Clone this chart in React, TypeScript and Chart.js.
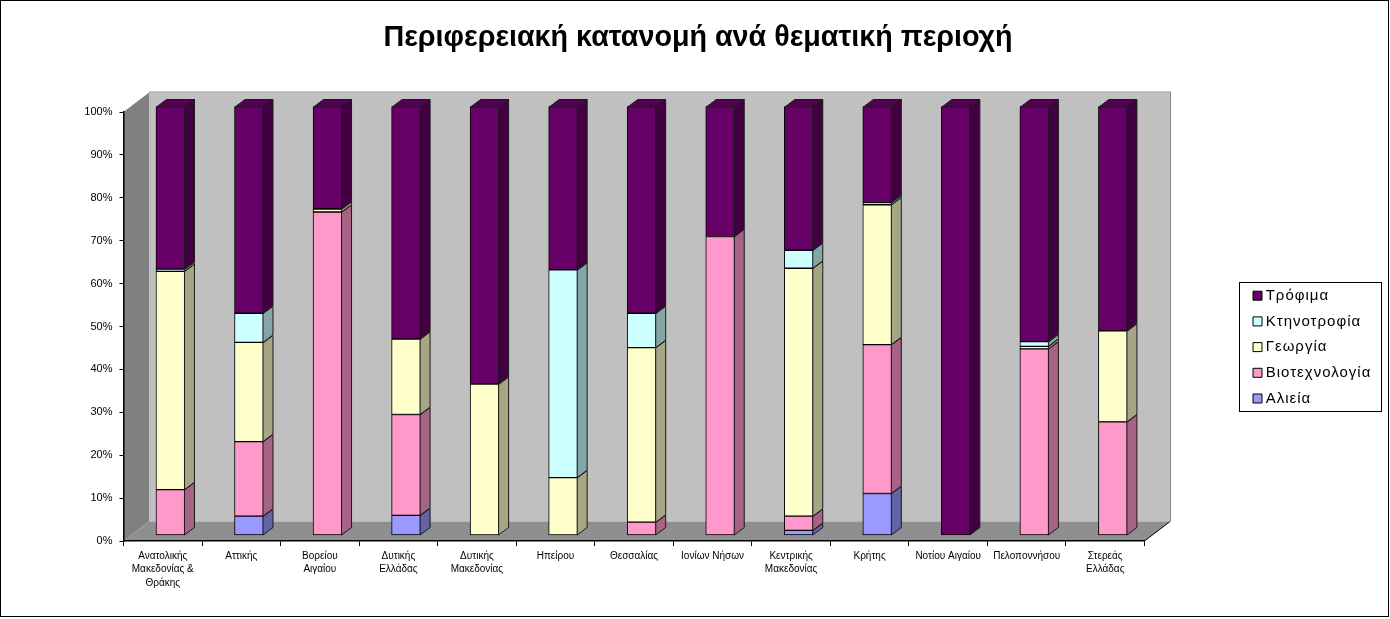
import React, { useEffect, useRef } from "react";
import { Chart, registerables } from "chart.js";

Chart.register(...registerables);

const regions = [
  ["Ανατολικής", "Μακεδονίας &", "Θράκης"],
  "Αττικής",
  ["Βορείου", "Αιγαίου"],
  ["Δυτικής", "Ελλάδας"],
  ["Δυτικής", "Μακεδονίας"],
  "Ηπείρου",
  "Θεσσαλίας",
  "Ιονίων Νήσων",
  ["Κεντρικής", "Μακεδονίας"],
  "Κρήτης",
  "Νοτίου Αιγαίου",
  "Πελοποννήσου",
  ["Στερεάς", "Ελλάδας"],
];

const alieia = [0, 4.5, 0, 4.7, 0, 0, 0, 0, 1.2, 9.8, 0, 0, 0];
const viotechnologia = [10.7, 17.4, 75.4, 23.5, 0, 0, 3.1, 69.7, 3.3, 34.7, 0, 43.5, 26.5];
const georgia = [50.9, 23.1, 0.7, 17.6, 35.3, 13.5, 40.7, 0, 57.8, 32.6, 0, 0.6, 21.2];
const ktinotrofia = [0.5, 6.8, 0, 0, 0, 48.4, 8.0, 0, 4.2, 0.5, 0, 1.1, 0];
const trofima = [37.9, 48.2, 23.9, 54.2, 64.7, 38.1, 48.2, 30.3, 33.5, 22.4, 100, 54.8, 52.3];

const yTicks = [0, 10, 20, 30, 40, 50, 60, 70, 80, 90, 100];
const title = "Περιφερειακή κατανομή ανά θεματική περιοχή";

const FONT = "'Liberation Sans', Arial, sans-serif";
const WALL_DX = 25.5;
const WALL_DY = -19.5;
const BAR_SHIFT_X = 7.7;
const BAR_SHIFT_Y = -5.5;
const BAR_DX = 10;
const BAR_DY = -7.5;

function shade(hex: string, k: number) {
  const n = parseInt(hex.slice(1), 16);
  const r = Math.round(((n >> 16) & 255) * k);
  const g = Math.round(((n >> 8) & 255) * k);
  const b = Math.round((n & 255) * k);
  return `rgb(${r},${g},${b})`;
}

function poly(ctx: CanvasRenderingContext2D, pts: number[][], fill: string, stroke?: string) {
  ctx.beginPath();
  pts.forEach((p, i) => (i ? ctx.lineTo(p[0], p[1]) : ctx.moveTo(p[0], p[1])));
  ctx.closePath();
  ctx.fillStyle = fill;
  ctx.fill();
  if (stroke) {
    ctx.strokeStyle = stroke;
    ctx.lineWidth = 1;
    ctx.stroke();
  }
}

const scene = {
  id: "scene3d",
  beforeDraw(chart: any) {
    const { ctx, chartArea: a, width, height } = chart;
    // place title and legend
    if (chart.titleBlock) {
      chart.titleBlock.left = 6;
      chart.titleBlock.right = width;
    }
    const lg = chart.legend;
    if (lg) {
      lg.left = 1246.1;
      lg.top = 277.5;
      lg.right = width;
      lg.bottom = height;
      if (!lg.__spaced) {
        lg.__spaced = true;
        const original = lg.draw;
        lg.draw = function (...args: any[]) {
          const c = this.ctx;
          const previous = c.letterSpacing;
          c.letterSpacing = "1px";
          original.apply(this, args);
          c.letterSpacing = previous;
        };
      }
    }
    ctx.save();
    ctx.fillStyle = "#fff";
    ctx.fillRect(0, 0, width, height);
    ctx.strokeStyle = "#000";
    ctx.lineWidth = 1;
    ctx.strokeRect(0.5, 0.5, width - 2, height - 3);
    // legend frame
    ctx.strokeRect(1239.5, 282.5, 142, 129);
    // walls
    const l = a.left, r = a.right, t = a.top, b = a.bottom;
    poly(ctx, [[l, t], [l + WALL_DX, t + WALL_DY], [l + WALL_DX, b + WALL_DY], [l, b]], "#808080");
    poly(ctx, [[l + WALL_DX, t + WALL_DY], [r + WALL_DX, t + WALL_DY], [r + WALL_DX, b + WALL_DY], [l + WALL_DX, b + WALL_DY]], "#C0C0C0");
    poly(ctx, [[l, b], [l + WALL_DX, b + WALL_DY], [r + WALL_DX, b + WALL_DY], [r, b]], "#8F8F8F");
    ctx.strokeStyle = "#8A8A8A";
    ctx.beginPath();
    ctx.moveTo(l + WALL_DX, t + WALL_DY - 0.5);
    ctx.lineTo(r + WALL_DX + 0.5, t + WALL_DY - 0.5);
    ctx.lineTo(r + WALL_DX + 0.5, b + WALL_DY);
    ctx.stroke();
    ctx.strokeStyle = "#000";
    ctx.beginPath();
    ctx.moveTo(r, b);
    ctx.lineTo(r + WALL_DX, b + WALL_DY);
    ctx.stroke();
    ctx.restore();
  },
  beforeDatasetsDraw(chart: any) {
    chart.ctx.save();
    chart.ctx.translate(BAR_SHIFT_X, BAR_SHIFT_Y);
  },
  afterDatasetsDraw(chart: any) {
    const ctx = chart.ctx;
    const n = chart.data.datasets.length;
    chart.data.datasets.forEach((ds: any, i: number) => {
      const meta = chart.getDatasetMeta(i);
      meta.data.forEach((el: any, j: number) => {
        if (!ds.data[j]) return;
        const { x, y, base, width } = el.getProps(["x", "y", "base", "width"], true);
        const R = x + width / 2 - 0.5;
        const L = x - width / 2 + 0.5;
        const T = y + 0.5;
        const B = base;
        poly(ctx, [[R, T], [R + BAR_DX, T + BAR_DY], [R + BAR_DX, B + BAR_DY], [R, B]], shade(ds.backgroundColor, 0.65), "#1a1a1a");
        if (i === n - 1) {
          poly(ctx, [[L, T], [L + BAR_DX, T + BAR_DY], [R + BAR_DX, T + BAR_DY], [R, T]], shade(ds.backgroundColor, 0.8), "#1a1a1a");
        }
      });
    });
    ctx.restore();
  },
};

function ds(label: string, data: number[], color: string) {
  return {
    label,
    data,
    backgroundColor: color,
    borderColor: "#000",
    borderWidth: 1,
    borderSkipped: false,
    barThickness: 29,
    clip: false,
  };
}

export default function App() {
  const ref = useRef<HTMLCanvasElement>(null);
  useEffect(() => {
    const chart = new Chart(ref.current as HTMLCanvasElement, {
      type: "bar",
      data: {
        labels: regions as any,
        datasets: [
          ds("Αλιεία", alieia, "#9999FF"),
          ds("Βιοτεχνολογία", viotechnologia, "#FF99CC"),
          ds("Γεωργία", georgia, "#FFFFCC"),
          ds("Κτηνοτροφία", ktinotrofia, "#CCFFFF"),
          ds("Τρόφιμα", trofima, "#660066"),
        ] as any,
      },
      plugins: [scene as any],
      options: {
        animation: false,
        responsive: false,
        devicePixelRatio: 1,
        layout: { padding: { left: 0, right: 245.5, top: 0, bottom: 0 } },
        plugins: {
          title: {
            display: true,
            text: title,
            color: "#000",
            font: { family: FONT, size: 28.7, weight: "bold", lineHeight: 1.2 },
            padding: { top: 21, bottom: 56.56 },
          },
          legend: {
            display: true,
            position: "chartArea",
            align: "start",
            reverse: true,
            labels: {
              color: "#000",
              font: { family: FONT, size: 15 },
              usePointStyle: true,
              pointStyle: "rect",
              boxWidth: 1.4,
              boxHeight: 9,
              padding: 10.7,
            },
          },
          tooltip: { enabled: false },
        },
        scales: {
          x: {
            stacked: true,
            afterFit: (s: any) => { s.height = 78; },
            grid: { drawOnChartArea: false, color: "#000", tickColor: "#000", tickLength: 5, offset: true },
            border: { color: "#000", width: 1.5 },
            ticks: {
              autoSkip: false,
              maxRotation: 0,
              minRotation: 0,
              color: "#000",
              padding: 3,
              font: { family: FONT, size: 10, lineHeight: 1.37 },
            },
          },
          y: {
            stacked: true,
            min: 0,
            max: 100,
            afterFit: (s: any) => { s.width = 123.5; },
            afterBuildTicks: (s: any) => { s.ticks = yTicks.map((value) => ({ value })); },
            grid: { drawOnChartArea: false, color: "#000", tickColor: "#000", tickLength: 4 },
            border: { color: "#000", width: 1.5 },
            ticks: {
              color: "#000",
              padding: 7,
              callback: (v: any) => `${v}%`,
              font: { family: FONT, size: 11 },
            },
          },
        },
      } as any,
    });
    return () => chart.destroy();
  }, []);
  return (
    <div style={{ position: "fixed", left: 0, top: 0, width: 1390, height: 619, background: "#fff" }}>
      <canvas ref={ref} width={1390} height={619} style={{ display: "block" }} />
    </div>
  );
}
